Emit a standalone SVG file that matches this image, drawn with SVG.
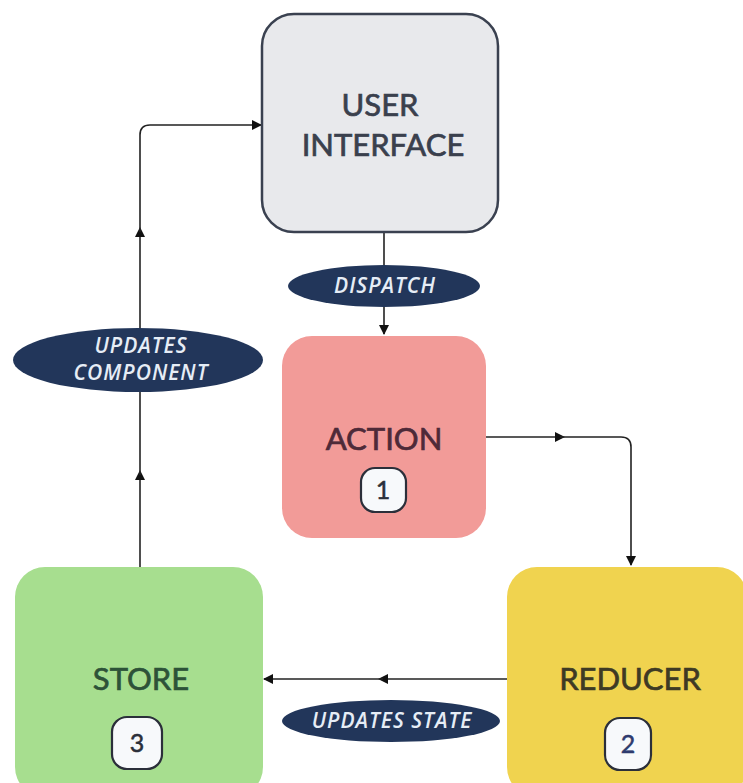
<svg xmlns="http://www.w3.org/2000/svg" width="743" height="783" viewBox="0 0 743 783">
<style>
.lbl{font-family:Lato,"Open Sans","Liberation Sans",sans-serif;font-size:31px;text-anchor:middle;stroke-width:0.7}
.pill{fill:#22365a}
.pt{font-family:"Open Sans",Lato,"Liberation Sans",sans-serif;font-size:21px;font-weight:600;font-style:italic;fill:#e6edf6;text-anchor:middle;letter-spacing:1px}
.badge{fill:#f7f9fb;stroke:#2b2f3a;stroke-width:2.2}
.bt{font-family:Lato,"Open Sans","Liberation Sans",sans-serif;font-size:25px;text-anchor:middle;stroke-width:0.5}
.conn{fill:none;stroke:#222;stroke-width:1.6}
</style>
<defs>
<marker id="ah" viewBox="0 0 10 10" refX="9" refY="5" markerWidth="10" markerHeight="10" markerUnits="userSpaceOnUse" orient="auto">
<path d="M0,0 L10,5 L0,10 z" fill="#111"/>
</marker>
<marker id="am" viewBox="0 0 10 10" refX="5" refY="5" markerWidth="10" markerHeight="10" markerUnits="userSpaceOnUse" orient="auto">
<path d="M0,0 L10,5 L0,10 z" fill="#111"/>
</marker>
</defs>
<rect width="743" height="783" fill="#ffffff"/>
<g id="connectors">
<path class="conn" d="M384,232 V334" marker-end="url(#ah)"/>
<path class="conn" d="M486,437 H560" marker-end="url(#am)"/>
<path class="conn" d="M560,437 H621 Q631,437 631,447 V565" marker-end="url(#ah)"/>
<path class="conn" d="M507,679 H383" marker-end="url(#am)"/>
<path class="conn" d="M383,679 H264" marker-end="url(#ah)"/>
<path class="conn" d="M140,567 V475" marker-end="url(#am)"/>
<path class="conn" d="M140,475 V232" marker-end="url(#am)"/>
<path class="conn" d="M140,232 V135 Q140,125 150,125 H261" marker-end="url(#ah)"/>
</g>
<g id="ui">
<rect x="262" y="14" width="236" height="218" rx="32" fill="#e8e9ec" stroke="#3a4150" stroke-width="2.5"/>
<text class="lbl" x="380" y="116" fill="#3a404d" stroke="#3a404d">USER</text>
<text class="lbl" x="383" y="156" fill="#3a404d" stroke="#3a404d">INTERFACE</text>
</g>
<g id="dispatch">
<ellipse class="pill" cx="384" cy="286" rx="96" ry="21"/>
<text class="pt" x="385" y="293">DISPATCH</text>
</g>
<g id="action">
<rect x="282" y="336" width="204" height="202" rx="30" fill="#f29b98"/>
<text class="lbl" x="384" y="450" fill="#4e2a38" stroke="#4e2a38">ACTION</text>
<rect class="badge" x="361" y="468" width="45" height="44" rx="14"/>
<text class="bt" x="383" y="499" fill="#2b2f3a" stroke="#2b2f3a">1</text>
</g>
<g id="reducer">
<rect x="507" y="567" width="240" height="230" rx="30" fill="#f0d34f"/>
<text class="lbl" x="630" y="690" fill="#3e3a24" stroke="#3e3a24">REDUCER</text>
<rect class="badge" x="605" y="718" width="46" height="52" rx="15"/>
<text class="bt" x="628" y="753" fill="#2e3a6e" stroke="#2e3a6e">2</text>
</g>
<g id="store">
<rect x="15" y="567" width="248" height="230" rx="30" fill="#a7de8f"/>
<text class="lbl" x="141" y="690" fill="#2d5238" stroke="#2d5238">STORE</text>
<rect class="badge" x="112" y="717" width="50" height="52" rx="15"/>
<text class="bt" x="137" y="752" fill="#2b2f3a" stroke="#2b2f3a">3</text>
</g>
<g id="updates-component">
<ellipse class="pill" cx="138" cy="360" rx="125" ry="32"/>
<text class="pt" x="141" y="353">UPDATES</text>
<text class="pt" x="141" y="380">COMPONENT</text>
</g>
<g id="updates-state">
<ellipse class="pill" cx="391" cy="721" rx="109" ry="21"/>
<text class="pt" x="392" y="728">UPDATES STATE</text>
</g>
</svg>
